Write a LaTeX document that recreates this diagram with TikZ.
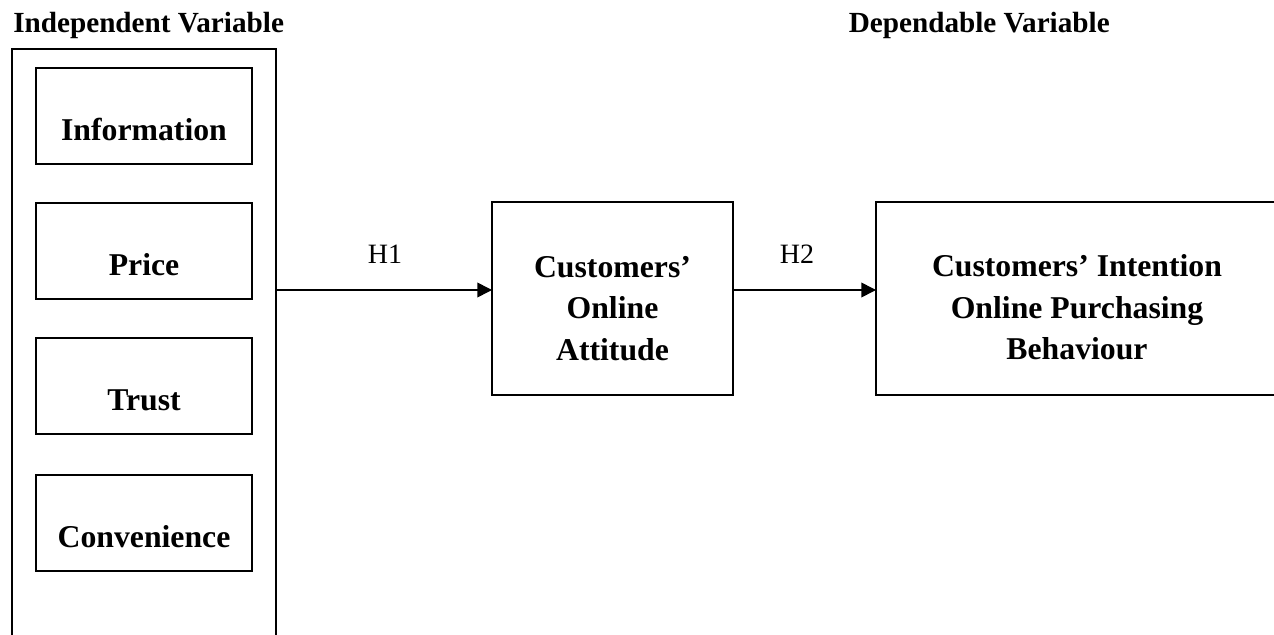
\documentclass[tikz,border=0pt]{standalone}
\usepackage{fontspec}
\setmainfont{Liberation Serif}
\usetikzlibrary{arrows.meta}
\begin{document}
\begin{tikzpicture}[x=0.75pt,y=-0.75pt,
  box/.style={draw,line width=1.5pt,inner sep=0pt,outer sep=0pt},
  sidebox/.style={box,minimum width=162pt,minimum height=72pt,
    text height=54pt,text depth=18pt,anchor=north,
    font=\fontsize{23.8pt}{28pt}\selectfont\bfseries},
  bigbox/.style={box,minimum height=144.75pt},
  lab/.style={align=center,inner sep=0pt,
    font=\fontsize{23.8pt}{31.1pt}\selectfont\bfseries},
  title/.style={inner sep=0pt,anchor=base,font=\fontsize{21.9pt}{26pt}\selectfont\bfseries},
  hyp/.style={inner sep=0pt,anchor=base,font=\fontsize{21pt}{25pt}\selectfont},
  arr/.style={line width=1.2pt,-{Triangle[length=11pt,width=11pt]}}
]
\clip (0,0) rectangle (1274,635);
\fill[white] (0,0) rectangle (1274,635);

% titles
\node[title,anchor=base west] (tind) at (13,33) {Independent Variable};
\node[title,anchor=base east] (tdep) at (1110,33) {Dependable Variable};

% outer box (open below the picture)
\node[box,minimum width=198pt,minimum height=503.25pt] (outer) at (144,384.5) {};

% independent variables
\node[sidebox] (info)  at (144,68)  {Information};
\node[sidebox] (price) at (144,203) {Price};
\node[sidebox] (trust) at (144,338) {Trust};
\node[sidebox] (conv)  at (144,475) {Convenience};

% attitude box
\node[bigbox,minimum width=180.75pt] (att) at (612.5,298.5) {};
\node[lab] (attl) at (612.5,308.5) {Customers'\\Online\\Attitude};

% dependent box (open to the right)
\node[bigbox,minimum width=303pt] (dep) at (1078,298.5) {};
\node[lab] (depl) at (1077,307.5) {Customers' Intention\\Online Purchasing\\Behaviour};

% connectors
\coordinate (ay) at (0,290);
\draw[arr] (outer.east |- ay) -- (att.west |- ay);
\draw[arr] (att.east |- ay) -- (dep.west |- ay);

\node[hyp] (h1) at (385,263) {H1};
\node[hyp] (h2) at (797,263) {H2};
\end{tikzpicture}
\end{document}
